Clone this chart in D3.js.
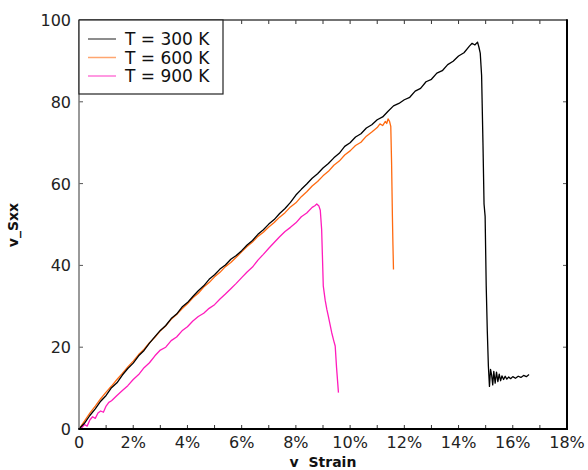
<!DOCTYPE html>
<html lang="en">
<head>
    <meta charset="UTF-8">
    <title>Stress-strain curves</title>
    <script src="https://d3js.org/d3.v7.min.js"></script>
    <style>
        body {
            margin: 0;
            background: #fff;
            font-family: 'DejaVu Sans', Arial, sans-serif;
        }

        .curve {
            fill: none;
            stroke-width: 1.3px;
            stroke-linejoin: round;
        }

        .tick-label {
            font-size: 16px;
            fill: #222;
        }

        .axis-title {
            font-weight: bold;
            fill: #111;
        }

        .legend text {
            font-size: 17px;
            fill: #111;
        }
    </style>
</head>
<body>
    <div id="chart"></div>

    <script>
        // strain in %, stress values
        const xTicks = [0, 2, 4, 6, 8, 10, 12, 14, 16, 18];
        const xMinorTicks = [1, 3, 5, 7, 9, 11, 13, 15, 17];
        const yTicks = [0, 20, 40, 60, 80, 100];
        const seriesNames = ['T = 300 K', 'T = 600 K', 'T = 900 K'];
        const seriesColors = ['#000000', '#ff6a10', '#ff1cbc'];

        const strain300 = [0, 0.2, 0.4, 0.6, 0.8, 1.0, 1.2, 1.4, 1.6, 1.8, 2.0, 2.2, 2.4, 2.6, 2.8, 3.0,
            3.2, 3.4, 3.6, 3.8, 4.0, 4.2, 4.4, 4.6, 4.8, 5.0, 5.2, 5.4, 5.6, 5.8, 6.0, 6.2, 6.4, 6.6, 6.8,
            7.0, 7.2, 7.4, 7.6, 7.8, 8.0, 8.2, 8.4, 8.6, 8.8, 9.0, 9.2, 9.4, 9.6, 9.8, 10.0, 10.2, 10.4,
            10.6, 10.8, 11.0, 11.2, 11.4, 11.6, 11.8, 12.0, 12.2, 12.4, 12.6, 12.8, 13.0, 13.2, 13.4, 13.6,
            13.8, 14.0, 14.2, 14.4, 14.5, 14.6, 14.7, 14.75, 14.8, 14.85, 14.9, 14.94, 14.98, 15.02, 15.06,
            15.1, 15.14, 15.18, 15.22, 15.26, 15.3, 15.35, 15.4, 15.45, 15.5, 15.55, 15.6, 15.66, 15.72,
            15.78, 15.85, 15.92, 16.0, 16.1, 16.2, 16.3, 16.4, 16.5, 16.6];
        const stress300 = [0, 1.4, 3.3, 4.9, 6.8, 8.2, 10.1, 11.3, 13.2, 14.8, 16.1, 17.9, 19.2, 21.0, 22.6, 24.1,
            25.3, 27.0, 28.1, 29.8, 30.9, 32.4, 33.8, 35.0, 36.6, 37.7, 39.1, 40.1, 41.5, 42.4, 43.6, 45.0, 46.1, 47.6, 48.7,
            50.1, 51.2, 52.7, 53.9, 55.4, 57.2, 58.6, 59.9, 61.3, 62.4, 63.8, 64.9, 66.3, 67.4, 69.1, 70.0, 71.4, 72.2,
            73.6, 74.4, 75.6, 76.3, 77.7, 79.0, 79.6, 80.5, 81.1, 82.6, 83.3, 84.9, 85.5, 87.0, 87.6, 89.1,
            89.9, 91.2, 92.0, 93.6, 94.3, 93.9, 94.6, 93.4, 91.9, 86.5, 70.0, 55.0, 52.0, 35.0, 24.0,
            15.4, 10.4, 14.6, 13.2, 10.8, 14.1, 11.2, 13.9, 11.6, 13.4, 11.8, 13.0, 12.1, 12.9,
            12.2, 12.7, 12.3, 12.8, 12.4, 12.9, 12.6, 13.1, 12.8, 13.3];

        const strain600 = [0, 0.2, 0.4, 0.6, 0.8, 1.0, 1.2, 1.4, 1.6, 1.8, 2.0, 2.2, 2.4, 2.6, 2.8, 3.0,
            3.2, 3.4, 3.6, 3.8, 4.0, 4.2, 4.4, 4.6, 4.8, 5.0, 5.2, 5.4, 5.6, 5.8, 6.0, 6.2, 6.4, 6.6, 6.8,
            7.0, 7.2, 7.4, 7.6, 7.8, 8.0, 8.2, 8.4, 8.6, 8.8, 9.0, 9.2, 9.4, 9.6, 9.8, 10.0, 10.2, 10.4,
            10.6, 10.8, 11.0, 11.1, 11.2, 11.3, 11.35, 11.4, 11.45, 11.5, 11.53, 11.56, 11.58, 11.6];
        const stress600 = [0, 1.9, 3.9, 5.6, 7.4, 9.0, 10.5, 12.1, 13.6, 15.2, 16.6, 18.2, 19.5, 21.1, 22.4, 24.0,
            25.2, 26.8, 28.0, 29.4, 30.6, 32.1, 33.2, 34.7, 35.8, 37.2, 38.3, 39.7, 40.7, 42.0, 43.3, 44.6, 45.7, 47.1, 48.1,
            49.4, 50.5, 51.8, 52.9, 54.3, 55.3, 56.8, 58.0, 59.4, 60.5, 61.9, 63.0, 64.5, 65.5, 67.0, 68.0, 69.3, 70.1,
            71.6, 72.6, 73.7, 74.6, 74.2, 75.2, 74.7, 75.8, 75.3, 74.0, 65.0, 52.0, 45.0, 39.0];

        const strain900 = [0, 0.1, 0.2, 0.3, 0.4, 0.5, 0.6, 0.7, 0.8, 0.9, 1.0, 1.1, 1.2, 1.4, 1.6, 1.8, 2.0,
            2.2, 2.4, 2.6, 2.8, 3.0, 3.2, 3.4, 3.6, 3.8, 4.0, 4.2, 4.4, 4.6, 4.8, 5.0, 5.2, 5.4, 5.6, 5.8,
            6.0, 6.2, 6.4, 6.6, 6.8, 7.0, 7.2, 7.4, 7.6, 7.8, 8.0, 8.2, 8.4, 8.6, 8.7, 8.77, 8.85, 8.9,
            8.95, 8.98, 9.01, 9.08, 9.14, 9.2, 9.32, 9.4, 9.45, 9.5, 9.57];
        const stress900 = [0, 0.3, 1.1, 0.7, 2.2, 3.0, 2.6, 3.9, 4.4, 4.1, 5.6, 6.5, 6.9, 8.2, 9.4, 10.6, 12.1,
            13.3, 15.0, 16.2, 17.9, 19.3, 20.0, 21.6, 22.5, 24.0, 25.0, 26.4, 27.5, 28.3, 29.5, 30.4, 31.8, 33.0, 34.3, 35.6,
            37.0, 38.4, 39.6, 41.3, 42.7, 44.2, 45.6, 47.0, 48.3, 49.3, 50.4, 51.9, 52.8, 54.2, 54.6, 55.0, 54.5, 53.5,
            48.8, 42.0, 35.0, 31.5, 29.3, 27.5, 23.6, 21.5, 20.3, 15.0, 8.9];

        const width = 588, height = 470;
        const margin = { top: 20, right: 21, bottom: 41, left: 79 };

        const svg = d3.select('#chart').append('svg')
            .attr('width', width)
            .attr('height', height);

        const x = d3.scaleLinear().domain([0, 18]).range([margin.left, width - margin.right]);
        const y = d3.scaleLinear().domain([0, 100]).range([height - margin.bottom, margin.top]);

        const x0 = x.range()[0], x1 = x.range()[1];
        const y0 = y.range()[0], y1 = y.range()[1];

        // curves
        const line = d3.line().x(d => x(d[0])).y(d => y(d[1]));
        const series = [
            d3.zip(strain300, stress300),
            d3.zip(strain600, stress600),
            d3.zip(strain900, stress900)
        ];

        // draw 900 first so black ends up on top, like the original
        [2, 1, 0].forEach(i => {
            svg.append('path')
                .attr('class', 'curve')
                .attr('d', line(series[i]))
                .attr('stroke', seriesColors[i]);
        });

        // ticks, all pointing inward
        const tickLen = 4;
        const allX = xTicks.concat(xMinorTicks).filter(v => v > 0 && v < 18);
        allX.forEach(v => {
            svg.append('line').attr('x1', x(v)).attr('x2', x(v)).attr('y1', y0).attr('y2', y0 - tickLen)
                .attr('stroke', '#333');
            svg.append('line').attr('x1', x(v)).attr('x2', x(v)).attr('y1', y1).attr('y2', y1 + tickLen)
                .attr('stroke', '#333');
        });
        yTicks.filter(v => v > 0 && v < 100).forEach(v => {
            svg.append('line').attr('x1', x0).attr('x2', x0 + tickLen).attr('y1', y(v)).attr('y2', y(v))
                .attr('stroke', '#555');
            svg.append('line').attr('x1', x1).attr('x2', x1 - tickLen).attr('y1', y(v)).attr('y2', y(v))
                .attr('stroke', '#555');
        });

        // frame: left and top are lighter, right and bottom heavy
        svg.append('line').attr('x1', x0).attr('x2', x0).attr('y1', y0).attr('y2', y1)
            .attr('stroke', '#777').attr('stroke-width', 1.5);
        svg.append('line').attr('x1', x0).attr('x2', x1).attr('y1', y1).attr('y2', y1)
            .attr('stroke', '#444').attr('stroke-width', 1.5);
        svg.append('line').attr('x1', x1).attr('x2', x1).attr('y1', y1 - 0.75).attr('y2', y0 + 1)
            .attr('stroke', '#000').attr('stroke-width', 2);
        svg.append('line').attr('x1', x0 - 0.75).attr('x2', x1).attr('y1', y0).attr('y2', y0)
            .attr('stroke', '#000').attr('stroke-width', 2);

        // tick labels
        svg.selectAll('.xlab').data(xTicks).enter().append('text')
            .attr('class', 'tick-label')
            .attr('x', d => x(d))
            .attr('y', y0 + 19)
            .attr('text-anchor', 'middle')
            .text(d => d === 0 ? '0' : d + '%');

        svg.selectAll('.ylab').data(yTicks).enter().append('text')
            .attr('class', 'tick-label')
            .attr('x', x0 - 8)
            .attr('y', d => y(d) + 6)
            .attr('text-anchor', 'end')
            .text(d => d);

        // axis titles
        svg.append('text')
            .attr('class', 'axis-title')
            .attr('x', (x0 + x1) / 2)
            .attr('y', height - 3)
            .attr('text-anchor', 'middle')
            .style('font-size', '14px')
            .attr('xml:space', 'preserve')
            .text('v  Strain');

        svg.append('text')
            .attr('class', 'axis-title')
            .attr('transform', 'translate(18,' + 225 + ') rotate(-90)')
            .attr('text-anchor', 'middle')
            .style('font-size', '14px')
            .text('v_Sxx');

        // legend box
        const legend = svg.append('g').attr('class', 'legend');
        legend.append('rect')
            .attr('x', x0)
            .attr('y', y1)
            .attr('width', 144)
            .attr('height', 74)
            .attr('fill', '#fff')
            .attr('stroke', '#222')
            .attr('stroke-width', 1.2);

        seriesNames.forEach((name, i) => {
            const ly = y1 + 19 + i * 18.5;
            legend.append('line')
                .attr('x1', x0 + 9).attr('x2', x0 + 37)
                .attr('y1', ly).attr('y2', ly)
                .attr('stroke', seriesColors[i])
                .attr('stroke-opacity', 0.6)
                .attr('stroke-width', 1.5);
            legend.append('text')
                .attr('x', x0 + 46)
                .attr('y', ly + 6)
                .text(name);
        });
    </script>
</body>
</html>
